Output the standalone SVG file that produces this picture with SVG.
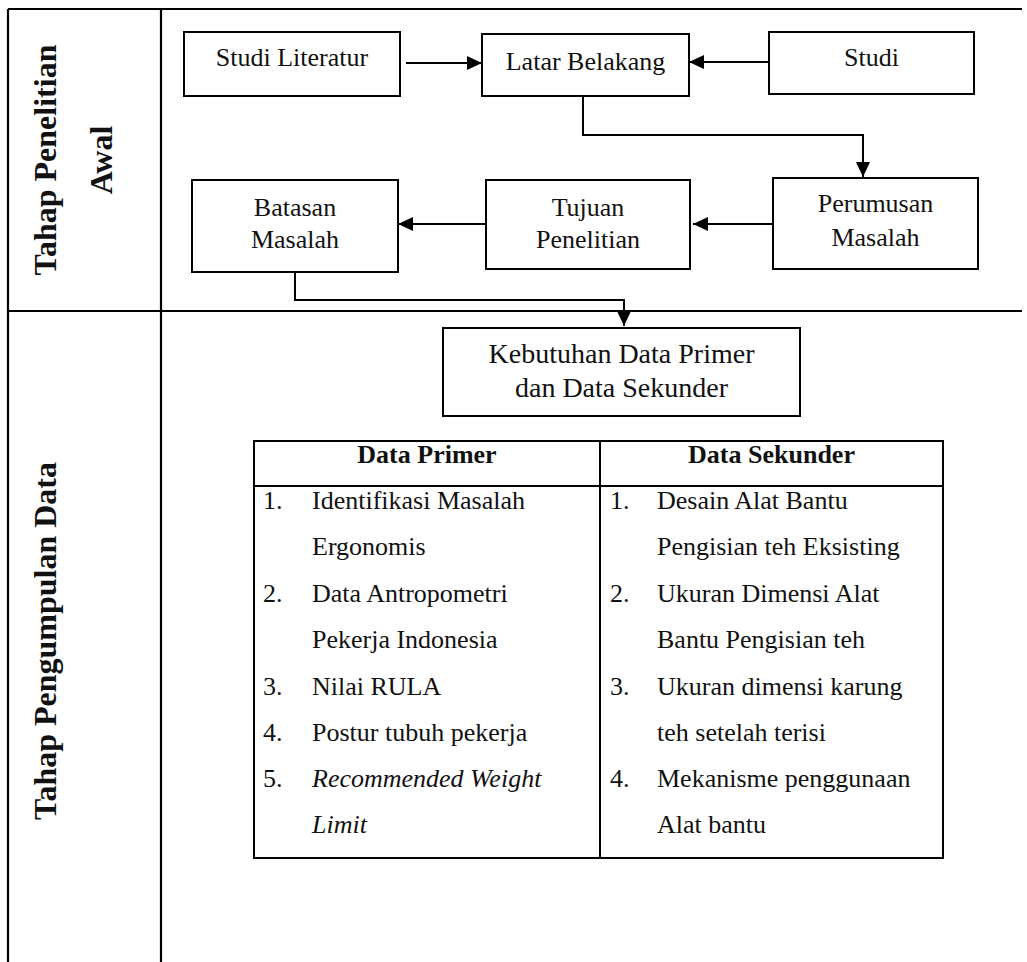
<svg xmlns="http://www.w3.org/2000/svg" width="1027" height="962" viewBox="0 0 1027 962">
<style>
.t{font-family:"Liberation Serif","Times New Roman",serif;font-size:26px;fill:#111}
.c{text-anchor:middle}
.b{font-weight:bold}
.i{font-style:italic}
.box{fill:#fff;stroke:#000;stroke-width:2}
.ln{fill:none;stroke:#000;stroke-width:2}
.fr{fill:none;stroke:#000;stroke-width:2.2}
</style>
<defs>
<marker id="ah" viewBox="0 0 15 14" refX="15" refY="7" markerWidth="15" markerHeight="14" markerUnits="userSpaceOnUse" orient="auto">
<path d="M0,0 L15,7 L0,14 Z" fill="#000"/>
</marker>
</defs>
<rect width="1027" height="962" fill="#fff"/>
<g id="frame">
<path class="fr" d="M8,9 H1022 M8,311 H1022 M8,9 V962 M161,9 V962"/>
<text class="t b c" style="font-size:32px" transform="translate(56,160) rotate(-90)">Tahap Penelitian</text>
<text class="t b c" style="font-size:32px" transform="translate(112,160) rotate(-90)">Awal</text>
<text class="t b c" style="font-size:32px" transform="translate(56,641) rotate(-90)">Tahap Pengumpulan Data</text>
</g>
<g id="connectors">
<path class="ln" d="M406,63 H482" marker-end="url(#ah)"/>
<path class="ln" d="M769,62 H689" marker-end="url(#ah)"/>
<path class="ln" d="M583,96 V135 H863 V177" marker-end="url(#ah)"/>
<path class="ln" d="M773,224 H693" marker-end="url(#ah)"/>
<path class="ln" d="M486,224 H398" marker-end="url(#ah)"/>
<path class="ln" d="M295,272 V300 H624 V326" marker-end="url(#ah)"/>
</g>
<g id="studi-literatur">
<rect class="box" x="184" y="32" width="216" height="64"/>
<text class="t c" x="292" y="66">Studi Literatur</text>
</g>
<g id="latar-belakang">
<rect class="box" x="482" y="34" width="207" height="62"/>
<text class="t c" x="585.5" y="70">Latar Belakang</text>
</g>
<g id="studi">
<rect class="box" x="769" y="32" width="205" height="62"/>
<text class="t c" x="871.5" y="66">Studi</text>
</g>
<g id="perumusan-masalah">
<rect class="box" x="773" y="178" width="205" height="91"/>
<text class="t c" x="875.5" y="212">Perumusan</text>
<text class="t c" x="875.5" y="246">Masalah</text>
</g>
<g id="tujuan-penelitian">
<rect class="box" x="486" y="180" width="204" height="89"/>
<text class="t c" x="588" y="216">Tujuan</text>
<text class="t c" x="588" y="248">Penelitian</text>
</g>
<g id="batasan-masalah">
<rect class="box" x="192" y="180" width="206" height="92"/>
<text class="t c" x="295" y="216">Batasan</text>
<text class="t c" x="295" y="248">Masalah</text>
</g>
<g id="kebutuhan-data">
<rect class="box" x="443" y="328" width="357" height="88"/>
<text class="t c" style="font-size:28px" x="621.5" y="363">Kebutuhan Data Primer</text>
<text class="t c" style="font-size:28px" x="621.5" y="397">dan Data Sekunder</text>
</g>
<g id="tabel-data">
<rect class="box" x="254" y="441" width="689" height="417"/>
<path class="ln" d="M254,486 H943 M600,441 V858"/>
<text class="t b c" x="427" y="463">Data Primer</text>
<text class="t b c" x="771.5" y="463">Data Sekunder</text>
<text class="t" x="263" y="509">1.</text>
<text class="t" x="312" y="509">Identifikasi Masalah</text>
<text class="t" x="312" y="555">Ergonomis</text>
<text class="t" x="263" y="602">2.</text>
<text class="t" x="312" y="602">Data Antropometri</text>
<text class="t" x="312" y="648">Pekerja Indonesia</text>
<text class="t" x="263" y="695">3.</text>
<text class="t" x="312" y="695">Nilai RULA</text>
<text class="t" x="263" y="741">4.</text>
<text class="t" x="312" y="741">Postur tubuh pekerja</text>
<text class="t" x="263" y="787">5.</text>
<text class="t i" x="312" y="787">Recommended Weight</text>
<text class="t i" x="312" y="833">Limit</text>
<text class="t" x="610" y="509">1.</text>
<text class="t" x="657" y="509">Desain Alat Bantu</text>
<text class="t" x="657" y="555">Pengisian teh Eksisting</text>
<text class="t" x="610" y="602">2.</text>
<text class="t" x="657" y="602">Ukuran Dimensi Alat</text>
<text class="t" x="657" y="648">Bantu Pengisian teh</text>
<text class="t" x="610" y="695">3.</text>
<text class="t" x="657" y="695">Ukuran dimensi karung</text>
<text class="t" x="657" y="741">teh setelah terisi</text>
<text class="t" x="610" y="787">4.</text>
<text class="t" x="657" y="787">Mekanisme penggunaan</text>
<text class="t" x="657" y="833">Alat bantu</text>
</g>
</svg>
